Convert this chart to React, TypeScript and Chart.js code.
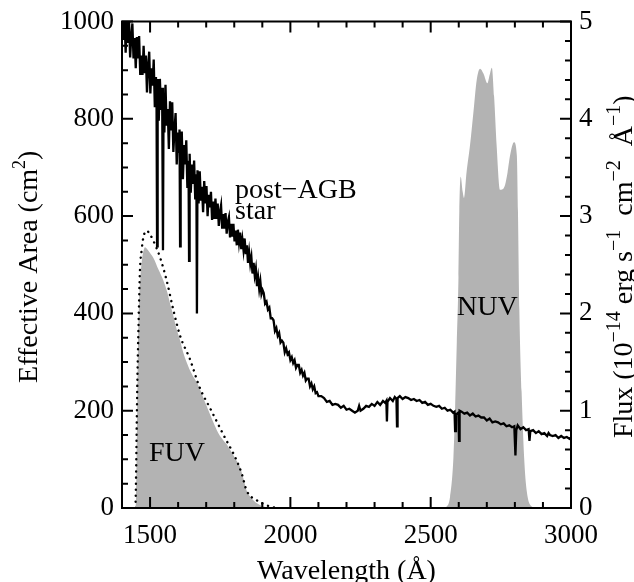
import React, { useEffect, useRef } from 'react';
import { Chart, registerables } from 'chart.js';

Chart.register(...registerables);

// ---- post-AGB star spectrum (flux, 1e-14 erg/s/cm2/A) ----
const specWave = [
  1402, 1406, 1409, 1413, 1417, 1421, 1425, 1429, 1433, 1437,
  1441, 1445, 1449, 1453, 1457, 1461, 1465, 1469, 1473, 1477,
  1481, 1485, 1489, 1493, 1497, 1501, 1505, 1509, 1513, 1517,
  1521, 1523, 1525, 1527, 1531, 1535, 1539, 1543, 1546, 1548,
  1551, 1555, 1559, 1563, 1567, 1571, 1575, 1579, 1583, 1587,
  1591, 1595, 1599, 1603, 1605, 1607, 1609, 1613, 1617, 1621,
  1625, 1629, 1633, 1637, 1639, 1641, 1645, 1649, 1653, 1657,
  1661, 1665, 1667, 1669, 1673, 1677, 1681, 1685, 1689, 1693,
  1697, 1701, 1705, 1709, 1713, 1717, 1721, 1725, 1729, 1733,
  1737, 1741, 1745, 1749, 1753, 1757, 1761, 1765, 1769, 1773,
  1777, 1781, 1785, 1789, 1793, 1797, 1801, 1805, 1809, 1813,
  1817, 1821, 1825, 1829, 1833, 1837, 1841, 1845, 1849, 1853,
  1857, 1861, 1865, 1869, 1873, 1877, 1881, 1885, 1889, 1893,
  1897, 1901, 1905, 1910, 1915, 1920, 1925, 1930, 1935, 1940,
  1945, 1950, 1955, 1960, 1965, 1970, 1975, 1980, 1985, 1990,
  1995, 2000, 2005, 2010, 2015, 2020, 2025, 2030, 2035, 2040,
  2045, 2050, 2055, 2060, 2065, 2070, 2075, 2080, 2085, 2090,
  2095, 2100, 2110, 2120, 2130, 2140, 2150, 2160, 2170, 2180,
  2190, 2200, 2210, 2220, 2230, 2240, 2245, 2250, 2260, 2270,
  2280, 2290, 2300, 2310, 2320, 2330, 2338, 2342, 2344, 2346,
  2355, 2365, 2372, 2378, 2380, 2382, 2390, 2400, 2410, 2420,
  2430, 2440, 2450, 2460, 2470, 2480, 2490, 2500, 2510, 2520,
  2530, 2540, 2550, 2560, 2570, 2580, 2585, 2587, 2590, 2599,
  2601, 2603, 2610, 2620, 2630, 2640, 2650, 2660, 2670, 2680,
  2690, 2700, 2710, 2720, 2730, 2740, 2750, 2760, 2770, 2780,
  2790, 2798, 2802, 2805, 2810, 2820, 2830, 2840, 2849, 2852,
  2855, 2865, 2875, 2885, 2895, 2905, 2915, 2920, 2925, 2935,
  2945, 2955, 2965, 2975, 2985, 2995, 3000,
];
const specFlux = [
  5.14, 4.81, 5.04, 4.68, 5.01, 4.78, 5.02, 4.63, 4.84, 4.98,
  4.62, 4.83, 4.52, 4.84, 4.62, 4.85, 4.45, 4.65, 4.45, 4.75,
  4.47, 4.65, 4.27, 4.55, 4.69, 4.26, 4.52, 4.34, 4.61, 4.12,
  4.43, 4.20, 2.69, 4.41, 3.98, 4.41, 4.09, 4.32, 2.65, 4.17,
  3.86, 4.35, 3.93, 4.10, 3.69, 4.18, 3.88, 4.17, 3.66, 3.89,
  4.06, 3.53, 3.86, 3.65, 3.89, 2.69, 3.56, 3.87, 3.38, 3.73,
  3.53, 3.78, 3.29, 3.57, 2.54, 3.64, 3.24, 3.53, 3.33, 3.57,
  3.17, 3.43, 2.00, 3.47, 3.13, 3.46, 3.16, 3.30, 3.04, 3.36,
  3.13, 3.31, 3.00, 3.22, 3.09, 3.25, 2.96, 3.15, 2.97, 3.18,
  2.97, 3.13, 2.90, 3.04, 3.11, 2.87, 3.02, 2.87, 3.03, 2.82,
  2.94, 2.99, 2.78, 2.92, 2.79, 2.92, 2.74, 2.85, 2.70, 2.86,
  2.73, 2.83, 2.66, 2.76, 2.65, 2.77, 2.61, 2.70, 2.52, 2.63,
  2.51, 2.58, 2.41, 2.52, 2.39, 2.46, 2.28, 2.37, 2.25, 2.33,
  2.20, 2.24, 2.21, 2.10, 2.12, 2.04, 2.06, 1.95, 1.95, 1.93,
  1.82, 1.85, 1.77, 1.80, 1.70, 1.72, 1.70, 1.60, 1.64, 1.58,
  1.60, 1.52, 1.55, 1.49, 1.52, 1.44, 1.47, 1.47, 1.39, 1.42,
  1.36, 1.39, 1.31, 1.33, 1.33, 1.25, 1.28, 1.22, 1.25, 1.18,
  1.19, 1.15, 1.15, 1.13, 1.09, 1.10, 1.06, 1.07, 1.06, 1.03,
  1.05, 1.01, 1.02, 1.00, 0.98, 1.00, 1.05, 1.00, 1.02, 1.05,
  1.04, 1.07, 1.05, 1.09, 1.06, 1.10, 1.08, 1.10, 0.89, 1.09,
  1.13, 1.10, 1.14, 1.12, 0.84, 1.13, 1.15, 1.12, 1.14, 1.13,
  1.11, 1.12, 1.10, 1.11, 1.08, 1.09, 1.06, 1.07, 1.05, 1.04,
  1.05, 1.02, 1.03, 1.00, 1.01, 0.98, 0.99, 0.79, 0.96, 0.98,
  0.69, 1.00, 0.99, 0.97, 0.98, 0.95, 0.97, 0.94, 0.95, 0.93,
  0.93, 0.90, 0.92, 0.88, 0.89, 0.88, 0.86, 0.87, 0.84, 0.85,
  0.83, 0.84, 0.54, 0.80, 0.85, 0.81, 0.83, 0.80, 0.81, 0.69,
  0.79, 0.80, 0.77, 0.79, 0.76, 0.77, 0.74, 0.77, 0.75, 0.74,
  0.75, 0.72, 0.74, 0.72, 0.73, 0.71, 0.72,
];

// ---- FUV effective area (grey, cm2) ----
const fuvWave = [
  1447, 1450, 1453, 1456, 1460, 1465, 1470, 1476, 1482, 1490,
  1500, 1512, 1530, 1547, 1560, 1571, 1583, 1595, 1607, 1618,
  1630, 1642, 1654, 1666, 1678, 1690, 1702, 1714, 1730, 1745,
  1760, 1773, 1790, 1805, 1821, 1833, 1844, 1856, 1868, 1885,
  1904, 1925,
];
const fuvArea = [
  0, 20, 150, 300, 410, 470, 505, 527, 536, 532,
  524, 514, 490, 468, 446, 421, 395, 367, 345, 320,
  300, 283, 270, 259, 244, 226, 209, 192, 170, 152,
  140, 131, 115, 100, 84, 60, 36, 24, 16, 8,
  3, 0,
];

// ---- FUV effective area (dotted curve, cm2) ----
const fuvDotWave = [
  1448, 1450, 1452, 1455, 1458, 1464, 1470, 1476, 1488, 1500,
  1512, 1535, 1559, 1583, 1607, 1642, 1678, 1714, 1761, 1809,
  1827, 1844, 1880, 1927, 1950,
];
const fuvDotArea = [
  0, 60, 151, 270, 354, 489, 530, 556, 570, 562,
  549, 516, 468, 407, 354, 306, 246, 205, 151, 97,
  70, 36, 16, 3, 0,
];

// ---- NUV effective area (grey, cm2) ----
const nuvWave = [
  2545, 2557, 2569, 2581, 2587, 2593, 2599, 2602, 2607, 2614,
  2619, 2628, 2640, 2652, 2664, 2676, 2688, 2702, 2710, 2718,
  2726, 2735, 2747, 2756, 2765, 2774, 2783, 2797, 2807, 2811,
  2816, 2824, 2833, 2842, 2860, 2875,
];
const nuvArea = [
  0, 3, 23, 104, 205, 340, 475, 610, 681, 650,
  637, 691, 745, 812, 880, 903, 893, 873, 890, 905,
  846, 745, 654, 655, 664, 690, 725, 752, 725, 610,
  407, 239, 104, 36, 3, 0,
];

// ---- axes / tick labels ----
const xRange = [1400, 3000];
const xLabelTicks = [1500, 2000, 2500, 3000];
const leftRange = [0, 1000];
const leftLabelTicks = [0, 200, 400, 600, 800, 1000];
const rightRange = [0, 5];
const rightLabelTicks = [0, 1, 2, 3, 4, 5];

const FONT = '"Liberation Serif", "Times New Roman", serif';
const GREY = '#b3b3b3';

type Part = { t: string; sup?: boolean };
const leftTitle: Part[] = [{ t: 'Effective Area (cm' }, { t: '2', sup: true }, { t: ')' }];
const rightTitle: Part[] = [
  { t: 'Flux (10' }, { t: '\u221214', sup: true },
  { t: ' erg s' }, { t: '\u22121', sup: true },
  { t: '  cm' }, { t: '\u22122', sup: true },
  { t: '  \u00c5' }, { t: '\u22121', sup: true },
  { t: ')' },
];
const xTitle = 'Wavelength (\u00c5)';

// annotations in data units (x: wavelength, y: effective area)
const notes = [
  { text: 'post\u2212AGB', x: 1803, y: 638 },
  { text: 'star', x: 1803, y: 595 },
  { text: 'FUV', x: 1496, y: 97 },
  { text: 'NUV', x: 2594, y: 397 },
];

function drawRotated(
  ctx: CanvasRenderingContext2D, parts: Part[], cx: number, cy: number, size: number, supScale: number,
) {
  const supSize = Math.round(size * supScale);
  ctx.save();
  ctx.translate(cx, cy);
  ctx.rotate(-Math.PI / 2);
  ctx.textAlign = 'left';
  ctx.textBaseline = 'alphabetic';
  let total = 0;
  const widths = parts.map((p) => {
    ctx.font = `${p.sup ? supSize : size}px ${FONT}`;
    const w = ctx.measureText(p.t).width;
    total += w;
    return w;
  });
  let x = -total / 2;
  parts.forEach((p, i) => {
    ctx.font = `${p.sup ? supSize : size}px ${FONT}`;
    ctx.fillText(p.t, x, p.sup ? -size * 0.42 : 0);
    x += widths[i];
  });
  ctx.restore();
}

const framePlugin = {
  id: 'idlFrame',
  afterDatasetsDraw(chart: any) {
    const { ctx, chartArea: a, scales } = chart;
    ctx.save();
    ctx.strokeStyle = '#000';
    ctx.lineWidth = 2;
    ctx.beginPath();
    scales.x.ticks.forEach((t: any) => {
      const px = scales.x.getPixelForValue(t.value);
      const len = t.value % 500 === 0 ? 11 : 6;
      ctx.moveTo(px, a.bottom);
      ctx.lineTo(px, a.bottom - len);
      ctx.moveTo(px, a.top);
      ctx.lineTo(px, a.top + len);
    });
    scales.y.ticks.forEach((t: any) => {
      const py = scales.y.getPixelForValue(t.value);
      const len = t.value % 200 === 0 ? 11 : 6;
      ctx.moveTo(a.left, py);
      ctx.lineTo(a.left + len, py);
    });
    scales.y2.ticks.forEach((t: any) => {
      const py = scales.y2.getPixelForValue(t.value);
      const len = Math.abs(t.value - Math.round(t.value)) < 1e-6 ? 11 : 6;
      ctx.moveTo(a.right, py);
      ctx.lineTo(a.right - len, py);
    });
    ctx.stroke();
    ctx.strokeRect(a.left, a.top, a.right - a.left, a.bottom - a.top);

    ctx.fillStyle = '#000';
    ctx.font = `28px ${FONT}`;
    ctx.textAlign = 'left';
    ctx.textBaseline = 'alphabetic';
    notes.forEach((n) => {
      ctx.fillText(n.text, scales.x.getPixelForValue(n.x), scales.y.getPixelForValue(n.y));
    });

    ctx.textAlign = 'center';
    ctx.fillText(xTitle, (a.left + a.right) / 2, 579);
    const cy = (a.top + a.bottom) / 2 + 2;
    drawRotated(ctx, leftTitle, 37, cy, 28, 0.64);
    drawRotated(ctx, rightTitle, 632, cy, 28, 0.7);
    ctx.restore();
  },
};

export default function App() {
  const ref = useRef<HTMLCanvasElement | null>(null);
  useEffect(() => {
    if (!ref.current) return;
    const pts = (xs: number[], ys: number[]) => xs.map((x, i) => ({ x, y: ys[i] }));
    const chart = new Chart(ref.current, {
      type: 'line',
      data: {
        datasets: [
          {
            label: 'post-AGB star',
            data: pts(specWave, specFlux),
            yAxisID: 'y2',
            borderColor: '#000',
            borderWidth: 2.3,
            pointRadius: 0,
            fill: false,
            tension: 0,
          },
          {
            label: 'FUV (dotted)',
            data: pts(fuvDotWave, fuvDotArea),
            yAxisID: 'y',
            borderColor: '#000',
            borderWidth: 2.4,
            borderDash: [0.1, 6],
            borderCapStyle: 'round',
            pointRadius: 0,
            fill: false,
            cubicInterpolationMode: 'monotone',
          },
          {
            label: 'FUV',
            data: pts(fuvWave, fuvArea),
            yAxisID: 'y',
            borderColor: 'rgba(0,0,0,0)',
            borderWidth: 0,
            backgroundColor: GREY,
            pointRadius: 0,
            fill: 'origin',
            cubicInterpolationMode: 'monotone',
          },
          {
            label: 'NUV',
            data: pts(nuvWave, nuvArea),
            yAxisID: 'y',
            borderColor: 'rgba(0,0,0,0)',
            borderWidth: 0,
            backgroundColor: GREY,
            pointRadius: 0,
            fill: 'origin',
            cubicInterpolationMode: 'monotone',
          },
        ],
      },
      options: {
        animation: false,
        responsive: false,
        layout: { padding: { top: 14, left: 0, right: 0, bottom: 0 } },
        plugins: { legend: { display: false }, tooltip: { enabled: false } },
        scales: {
          x: {
            type: 'linear',
            min: xRange[0],
            max: xRange[1],
            position: 'bottom',
            grid: { display: false, drawTicks: false },
            border: { display: false },
            ticks: {
              stepSize: 100,
              autoSkip: false,
              maxRotation: 0,
              minRotation: 0,
              padding: 14,
              color: '#000',
              font: { family: FONT, size: 27, lineHeight: 1 },
              callback: (v: any) => (xLabelTicks.includes(Number(v)) ? String(v) : ''),
            },
            afterFit: (s: any) => { s.height = 74; },
          },
          y: {
            type: 'linear',
            position: 'left',
            min: leftRange[0],
            max: leftRange[1],
            grid: { display: false, drawTicks: false },
            border: { display: false },
            ticks: {
              stepSize: 50,
              autoSkip: false,
              padding: 8,
              color: '#000',
              font: { family: FONT, size: 27, lineHeight: 1 },
              callback: (v: any) => (leftLabelTicks.includes(Number(v)) ? String(v) : ''),
            },
            afterFit: (s: any) => { s.width = 122; },
          },
          y2: {
            type: 'linear',
            position: 'right',
            min: rightRange[0],
            max: rightRange[1],
            grid: { display: false, drawTicks: false },
            border: { display: false },
            ticks: {
              stepSize: 0.2,
              autoSkip: false,
              padding: 8,
              color: '#000',
              font: { family: FONT, size: 27, lineHeight: 1 },
              callback: (v: any) =>
                rightLabelTicks.some((r) => Math.abs(r - Number(v)) < 1e-6) ? String(Math.round(Number(v))) : '',
            },
            afterFit: (s: any) => { s.width = 63; },
          },
        },
      },
      plugins: [framePlugin],
    } as any);
    return () => chart.destroy();
  }, []);

  return (
    <div style={{ position: 'fixed', left: 0, top: 0, width: 634, height: 582, background: '#fff' }}>
      <canvas ref={ref} width={634} height={582} style={{ display: 'block' }} />
    </div>
  );
}
